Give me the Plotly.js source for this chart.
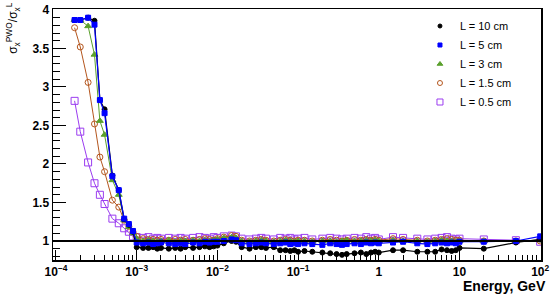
<!DOCTYPE html>
<html>
<head>
<meta charset="utf-8">
<script src="https://cdn.plot.ly/plotly-3.0.1.min.js"></script>
<style>html,body{margin:0;padding:0;background:#fff;}#chart{width:550px;height:294px;}</style>
</head>
<body>
<div id="chart"></div>
<script>
// Energies (GeV)
var energy = [
  1.7e-4, 2e-4, 2.5e-4, 3e-4, 3.5e-4, 4e-4, 5e-4, 6e-4, 7e-4, 8e-4, 9e-4, 1e-3,
  1.2e-3, 1.4e-3, 1.6e-3, 1.8e-3, 2e-3, 2.5e-3, 3e-3, 3.5e-3, 4e-3, 5e-3, 6e-3, 7e-3, 8e-3, 9e-3, 1e-2,
  0.012, 0.015, 0.017, 0.02, 0.025, 0.03, 0.035, 0.04, 0.05, 0.06, 0.07, 0.08, 0.09, 0.1,
  0.12, 0.15, 0.2, 0.25, 0.3, 0.35, 0.4, 0.5, 0.6, 0.7, 0.8, 0.9, 1,
  1.5, 2, 3, 4, 5, 6, 7, 8, 9, 10, 20, 50, 100
];
var L10 = [
  3.87, 3.87, 3.90, 3.86, 2.83, 2.71, 1.85, 1.66, 1.28, 1.21, 1.12, 0.92,
  0.91, 0.91, 0.92, 0.90, 0.91, 0.90, 0.91, 0.90, 0.92, 0.91, 0.92, 0.93, 0.92, 0.93, 0.94,
  0.97, 1.00, 0.99, 0.92, 0.90, 0.92, 0.92, 0.91, 0.92, 0.88, 0.88, 0.87, 0.88, 0.86,
  0.87, 0.86, 0.85, 0.84, 0.83, 0.82, 0.83, 0.84, 0.85, 0.83, 0.85, 0.86, 0.85,
  0.88, 0.88, 0.86, 0.86, 0.86, 0.89, 0.88, 0.87, 0.88, 0.91, 0.90, 0.98, 1.02
];
var L5 = [
  3.87, 3.87, 3.90, 3.81, 2.83, 2.66, 1.84, 1.66, 1.29, 1.22, 1.13, 0.98,
  0.97, 0.98, 0.96, 0.97, 0.98, 0.97, 0.96, 0.97, 0.96, 0.98, 0.97, 0.99, 0.98, 0.99, 0.99,
  1.00, 1.02, 1.01, 0.97, 0.96, 0.97, 0.98, 0.97, 0.96, 0.97, 0.98, 0.96, 0.97, 0.96,
  0.97, 0.96, 0.95, 0.97, 0.96, 0.95, 0.96, 0.97, 0.96, 0.98, 0.97, 0.98, 0.97,
  0.98, 0.99, 0.97, 0.96, 0.97, 0.98, 0.97, 0.98, 0.97, 0.99, 0.99, 1.00, 1.06
];
var L3 = [
  3.87, 3.87, 3.79, 3.42, 2.56, 2.38, 1.79, 1.60, 1.27, 1.18, 1.10, 1.03,
  1.00, 1.01, 1.00, 0.99, 1.00, 1.01, 0.99, 1.00, 1.00, 1.01, 1.00, 1.01, 1.00, 1.01, 1.02,
  1.04, 1.05, 1.04, 1.00, 0.99, 1.00, 1.01, 1.00, 0.99, 1.00, 1.01, 1.00, 0.99, 1.00,
  1.00, 0.99, 1.00, 1.00, 0.99, 1.00, 1.01, 1.00, 1.00, 1.01, 1.00, 1.01, 1.00,
  1.01, 1.00, 1.00, 0.99, 1.00, 1.01, 1.00, 1.00, 0.99, 1.00, 1.00, 1.00, 1.01
];
var L15 = [
  3.77, 3.52, 3.06, 2.52, 2.09, 1.90, 1.53, 1.44, 1.27, 1.19, 1.12, 1.06,
  1.03, 1.02, 1.02, 1.01, 1.02, 1.01, 1.02, 1.01, 1.02, 1.01, 1.02, 1.03, 1.02, 1.01, 1.03,
  1.05, 1.07, 1.06, 1.01, 1.00, 1.01, 1.02, 1.01, 1.00, 1.01, 1.02, 1.01, 1.00, 1.01,
  1.01, 1.00, 1.01, 1.02, 1.01, 1.00, 1.01, 1.02, 1.01, 1.02, 1.01, 1.02, 1.01,
  1.03, 1.02, 1.01, 1.00, 1.01, 1.02, 1.03, 1.02, 1.01, 1.01, 1.00, 1.00, 1.00
];
var L05 = [
  2.82, 2.42, 2.02, 1.75, 1.60, 1.48, 1.29, 1.23, 1.165, 1.12, 1.06, 1.05,
  1.04, 1.05, 1.03, 1.04, 1.03, 1.04, 1.03, 1.04, 1.03, 1.04, 1.05, 1.04, 1.03, 1.05, 1.04,
  1.06, 1.07, 1.06, 1.03, 1.02, 1.03, 1.04, 1.03, 1.02, 1.04, 1.03, 1.04, 1.02, 1.03,
  1.04, 1.02, 1.03, 1.04, 1.03, 1.02, 1.03, 1.04, 1.03, 1.05, 1.03, 1.04, 1.02,
  1.05, 1.04, 1.03, 1.02, 1.03, 1.04, 1.05, 1.03, 1.02, 1.03, 1.02, 1.01, 0.99
];
var seriesNames = ['L = 10 cm', 'L = 5 cm', 'L = 3 cm', 'L = 1.5 cm', 'L = 0.5 cm'];
var xTickVals = [1e-4, 1e-3, 1e-2, 1e-1, 1, 10, 100];
var xTickText = ['10<sup>\u22124</sup>', '10<sup>\u22123</sup>', '10<sup>\u22122</sup>', '10<sup>\u22121</sup>', '1', '10', '10<sup>2</sup>'];
var yTickVals = [1, 1.5, 2, 2.5, 3, 3.5, 4];
var yTickText = ['1', '1.5', '2', '2.5', '3', '3.5', '4'];

var styles = [
  {color: '#000000', symbol: 'circle', size: 5, lw: 1.2},
  {color: '#0000ff', symbol: 'square', size: 5, lw: 1.2},
  {color: '#5aa02c', symbol: 'triangle-up', size: 6, lw: 1},
  {color: '#b4561e', symbol: 'circle-open', size: 6, lw: 1},
  {color: '#9b3cf0', symbol: 'square-open', size: 7, lw: 1}
];
var values = [L10, L5, L3, L15, L05];
var drawOrder = [4, 3, 2, 0, 1];
var traces = [];
drawOrder.forEach(function (i) {
  traces.push({
    x: energy, y: values[i], type: 'scatter', mode: 'lines+markers',
    line: {color: styles[i].color, width: styles[i].lw},
    marker: {color: styles[i].color, symbol: styles[i].symbol, size: styles[i].size, line: {color: styles[i].color, width: 1}},
    showlegend: false, hoverinfo: 'skip'
  });
});
// legend-only entries (marker only, like the reference)
for (var i = 0; i < 5; i++) {
  traces.push({
    x: [null], y: [null], type: 'scatter', mode: 'markers', name: seriesNames[i],
    marker: {color: styles[i].color, symbol: styles[i].symbol, size: styles[i].size - 1, line: {color: styles[i].color, width: 1}},
    showlegend: true
  });
}

var bold = function (arr) { return arr.map(function (s) { return '<b>' + s + '</b>'; }); };
var minorX = [];
for (var d = -5; d <= 2; d++) for (var k = 2; k <= 9; k++) minorX.push(k * Math.pow(10, d));
var minorY = [];
for (var v = 8; v <= 40; v++) if (v % 5 !== 0) minorY.push(v / 10);

var fontB = {family: 'Liberation Sans, Arial, sans-serif', size: 12, color: '#000'};

var layout = {
  width: 550, height: 294,
  margin: {l: 53, r: 9, t: 9, b: 34},
  paper_bgcolor: '#fff', plot_bgcolor: '#fff',
  showlegend: true,
  legend: {x: 0.752, xanchor: 'left', y: 0.99, yanchor: 'top', bgcolor: 'rgba(0,0,0,0)',
    font: {family: 'Liberation Sans, Arial, sans-serif', size: 11, color: '#000'}, tracegroupgap: 0},
  xaxis: {
    type: 'log', range: [-4.037, 2.01],
    tickmode: 'array', tickvals: xTickVals, ticktext: bold(xTickText),
    ticks: 'inside', ticklen: 10, tickwidth: 1, tickcolor: '#000',
    minor: {tickmode: 'array', tickvals: minorX, ticks: 'inside', ticklen: 5, tickwidth: 1, tickcolor: '#000', showgrid: false},
    showgrid: false, zeroline: false,
    showline: true, mirror: true, linecolor: '#000', linewidth: 1.5,
    tickfont: fontB
  },
  yaxis: {
    range: [0.753, 4.013],
    tickmode: 'array', tickvals: yTickVals, ticktext: bold(yTickText),
    ticks: 'inside', ticklen: 13, tickwidth: 1, tickcolor: '#000',
    minor: {tickmode: 'array', tickvals: minorY, ticks: 'inside', ticklen: 7, tickwidth: 1, tickcolor: '#000', showgrid: false},
    showgrid: false, zeroline: false,
    showline: true, mirror: true, linecolor: '#000', linewidth: 1.5,
    tickfont: fontB
  },
  shapes: [{type: 'line', xref: 'paper', x0: 0, x1: 1, yref: 'y', y0: 1, y1: 1, line: {color: '#000', width: 2}, layer: 'above'}],
  annotations: [
    {text: '<b>Energy, GeV</b>', xref: 'paper', yref: 'paper', x: 1.0143, y: -0.102, xanchor: 'right', yanchor: 'middle', showarrow: false,
     font: {family: 'Liberation Sans, Arial, sans-serif', size: 14, color: '#000'}},
    {text: '\u03c3<sub>x</sub><sup>PWO</sup>/\u03c3<sub>x</sub><sup>L</sup>', xref: 'paper', yref: 'paper', x: -0.082, y: 0.925,
     xanchor: 'center', yanchor: 'middle', textangle: -90, showarrow: false,
     font: {family: 'Liberation Sans, Arial, sans-serif', size: 12, color: '#000'}}
  ]
};
Plotly.newPlot('chart', traces, layout, {displayModeBar: false, staticPlot: true});
</script>
</body>
</html>
